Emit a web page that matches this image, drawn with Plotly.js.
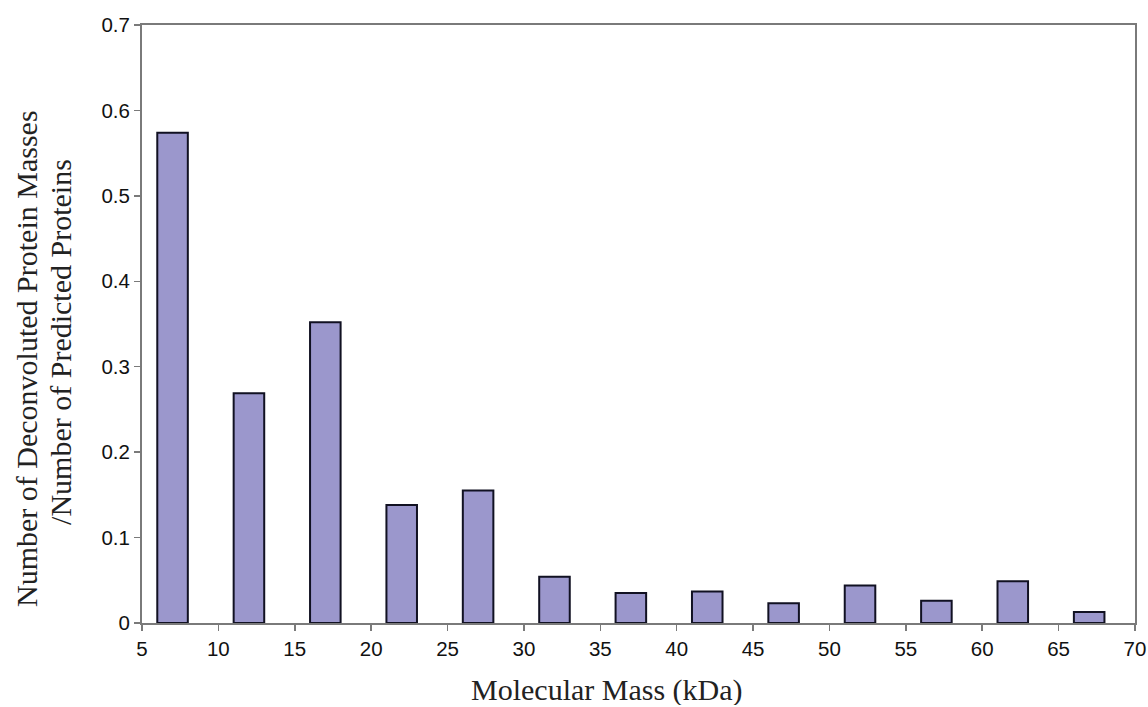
<!DOCTYPE html>
<html>
<head>
<meta charset="utf-8">
<script src="https://cdn.plot.ly/plotly-3.0.1.min.js"></script>
<style>
html,body{margin:0;padding:0;background:#fff;}
#chart{width:1148px;height:707px;}
</style>
</head>
<body>
<div id="chart"></div>
<script>
var massBins = [7, 12, 17, 22, 27, 32, 37, 42, 47, 52, 57, 62, 67];
var ratios = [0.574, 0.269, 0.352, 0.138, 0.155, 0.054, 0.035, 0.037, 0.023, 0.044, 0.026, 0.049, 0.013];
var xTicks = [5, 10, 15, 20, 25, 30, 35, 40, 45, 50, 55, 60, 65, 70];
var yTicks = [0, 0.1, 0.2, 0.3, 0.4, 0.5, 0.6, 0.7];
var yTickLabels = ["0", "0.1", "0.2", "0.3", "0.4", "0.5", "0.6", "0.7"];
var xTitle = 'Molecular Mass (kDa)';
var yTitleLine1 = 'Number of Deconvoluted Protein Masses';
var yTitleLine2 = '/Number of Predicted Proteins';

var trace = {
  type: 'bar',
  x: massBins,
  y: ratios,
  width: 2,
  marker: {color: '#9b97cc', line: {color: '#111122', width: 2}},
  hoverinfo: 'x+y'
};

var axisCommon = {
  showgrid: false,
  zeroline: false,
  showline: true,
  linecolor: '#7a7a7a',
  linewidth: 2,
  mirror: true,
  ticks: 'outside',
  ticklen: 6,
  tickwidth: 1.5,
  tickcolor: '#7a7a7a',
  tickfont: {family: 'Liberation Sans, Arial, sans-serif', size: 20.5, color: '#111'}
};

var titleFont = {family: 'Liberation Serif, Times New Roman, serif', size: 30, color: '#222'};

var layout = {
  width: 1148,
  height: 707,
  margin: {l: 142, r: 13, t: 25, b: 84},
  paper_bgcolor: '#ffffff',
  plot_bgcolor: '#ffffff',
  showlegend: false,
  xaxis: Object.assign({}, axisCommon, {
    range: [5, 70],
    tickmode: 'array',
    tickvals: xTicks,
    ticktext: xTicks.map(String)
  }),
  yaxis: Object.assign({}, axisCommon, {
    range: [0, 0.7],
    tickmode: 'array',
    tickvals: yTicks,
    ticktext: yTickLabels
  }),
  annotations: [
    {
      text: xTitle,
      xref: 'paper', yref: 'paper',
      x: 0.468, y: -0.112,
      xanchor: 'center', yanchor: 'middle',
      height: 30,
      borderpad: 0,
      showarrow: false,
      font: titleFont
    },
    {
      text: yTitleLine1,
      xref: 'paper', yref: 'paper',
      x: -0.1158, y: 0.4415,
      xanchor: 'center', yanchor: 'middle',
      textangle: -90,
      showarrow: false,
      font: titleFont
    },
    {
      text: yTitleLine2,
      xref: 'paper', yref: 'paper',
      x: -0.0816, y: 0.47,
      xanchor: 'center', yanchor: 'middle',
      textangle: -90,
      showarrow: false,
      font: titleFont
    }
  ]
};

Plotly.newPlot('chart', [trace], layout, {displayModeBar: false, staticPlot: true});
</script>
</body>
</html>
